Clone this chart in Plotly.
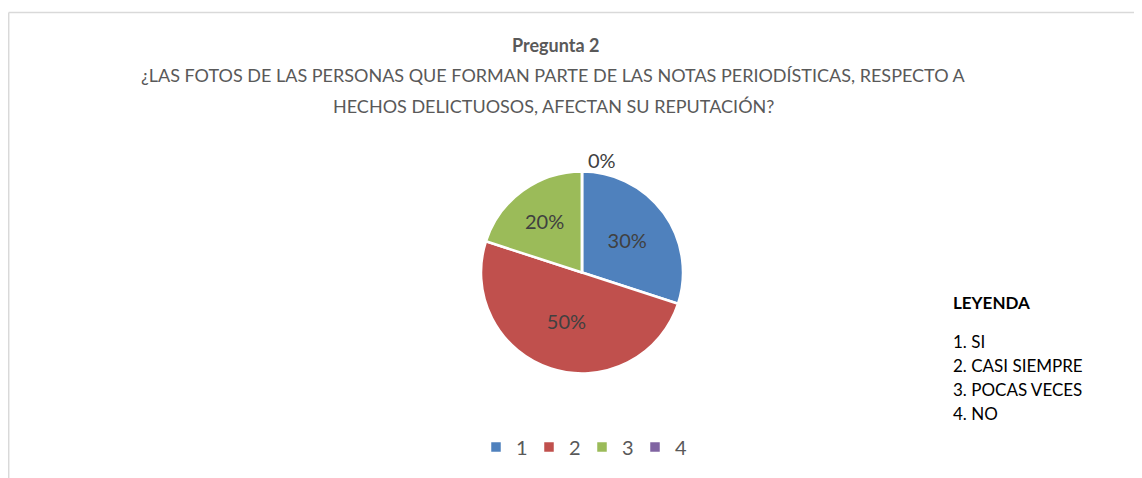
import plotly.graph_objects as go

# the page body adds an 8px margin around the figure
OFF = 8
W, H = 1142 - OFF, 478 - OFF

categories = ["1", "2", "3", "4"]
values = [30, 50, 20, 0]
colors = ["#4F81BD", "#C0504D", "#9BBB59", "#8064A2"]
legend_title = "LEYENDA"
legend_labels = ["SI", "CASI SIEMPRE", "POCAS VECES", "NO"]
title_main = "Pregunta 2"
title_lines = [
    "¿LAS FOTOS DE LAS PERSONAS QUE FORMAN PARTE DE LAS NOTAS PERIODÍSTICAS, RESPECTO A",
    "HECHOS DELICTUOSOS, AFECTAN SU REPUTACIÓN?",
]

FONT = "Lato"

def px(x):
    return (x - OFF) / W

def py(y):
    return 1 - (y - OFF) / H

cx, cy, r = 582, 272.5, 101

fig = go.Figure()
fig.add_trace(go.Pie(
    labels=categories,
    values=values,
    sort=False,
    direction="clockwise",
    rotation=0,
    marker=dict(colors=colors, line=dict(color="white", width=2.5)),
    texttemplate="%{percent:.0%}",
    textposition=["inside", "inside", "inside", "outside"],
    insidetextorientation="horizontal",
    textfont=dict(family=FONT, size=20, color="#404040"),
    outsidetextfont=dict(family=FONT, size=20, color="#404040"),
    domain=dict(x=[px(cx - r), px(cx + r)], y=[py(cy + r), py(cy - r)]),
    hoverinfo="label+percent",
    showlegend=True,
))

annotations = [
    dict(text="<b>%s</b>" % title_main, x=px(555), y=py(45), xref="paper", yref="paper",
         showarrow=False, font=dict(family=FONT, size=18, color="#595959"), xanchor="center", yanchor="middle"),
    dict(text=title_lines[0], x=px(553), y=py(75), xref="paper", yref="paper",
         showarrow=False, font=dict(family=FONT, size=18, color="#595959"), xanchor="center", yanchor="middle"),
    dict(text=title_lines[1], x=px(553), y=py(106), xref="paper", yref="paper",
         showarrow=False, font=dict(family=FONT, size=18, color="#595959"), xanchor="center", yanchor="middle"),
    dict(text="<b>%s</b>" % legend_title, x=px(951), y=py(302), xref="paper", yref="paper",
         showarrow=False, font=dict(family=FONT, size=17, color="#000000"), xanchor="left", yanchor="middle"),
]
for i, lab in enumerate(legend_labels):
    annotations.append(dict(text="%d. %s" % (i + 1, lab), x=px(951), y=py(341 + 24 * i),
                            xref="paper", yref="paper", showarrow=False,
                            font=dict(family=FONT, size=17, color="#000000"),
                            xanchor="left", yanchor="middle"))

shapes = [
    dict(type="line", xref="paper", yref="paper", x0=px(8.7), x1=px(1141), y0=py(12.5), y1=py(12.5),
         line=dict(color="#D9D9D9", width=1.5)),
    dict(type="line", xref="paper", yref="paper", x0=px(8.7), x1=px(8.7), y0=py(12.5), y1=py(478 + 5),
         line=dict(color="#D9D9D9", width=1.5)),
]

fig.update_layout(
    width=W, height=H,
    margin=dict(l=0, r=0, t=0, b=0),
    paper_bgcolor="white",
    plot_bgcolor="white",
    annotations=annotations,
    shapes=shapes,
    legend=dict(orientation="h", x=px(582), xanchor="center", y=py(447), yanchor="middle",
                font=dict(family=FONT, size=20, color="#595959"), itemwidth=30,
                entrywidth=8, traceorder="normal"),
)

fig.write_html("out.html")
